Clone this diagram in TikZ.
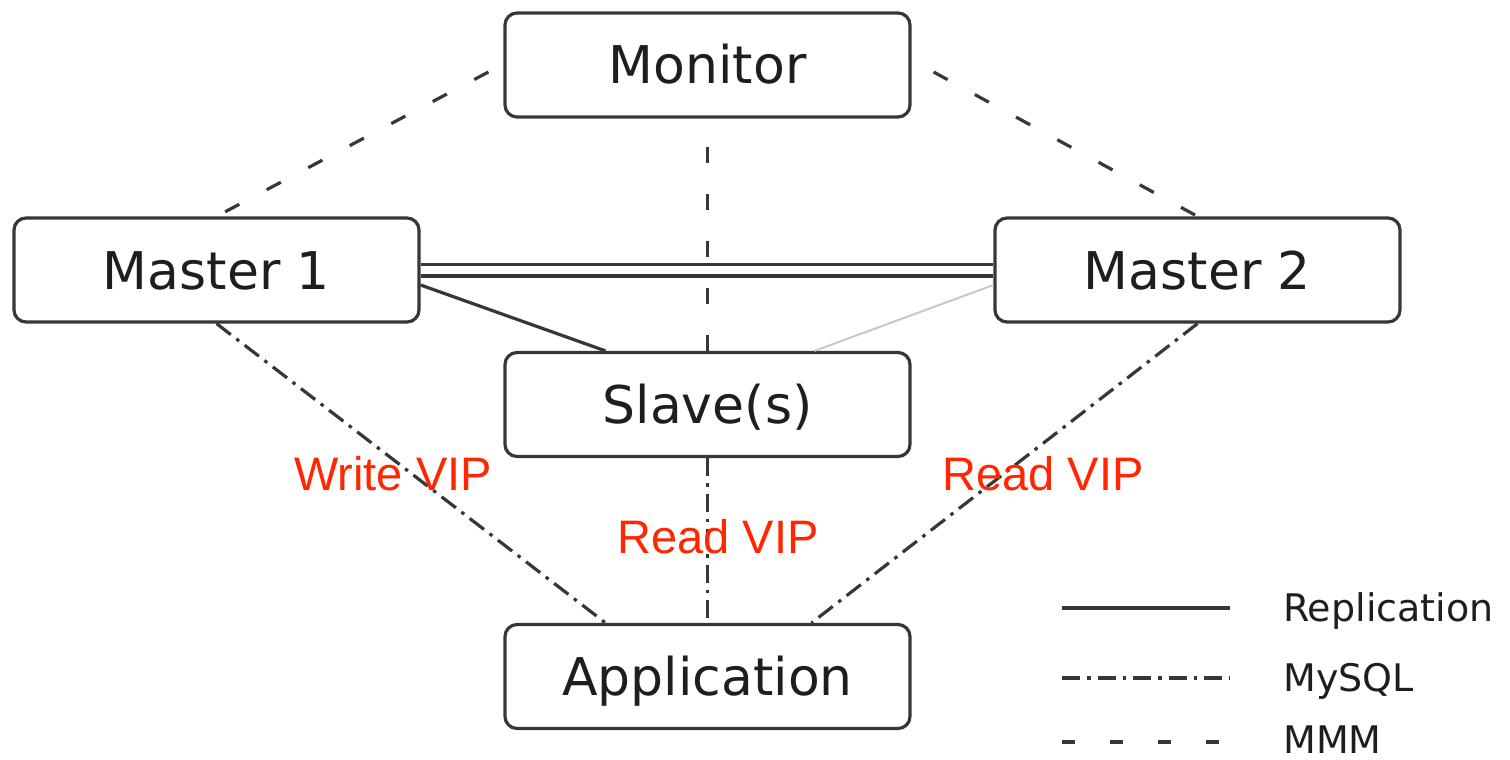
\documentclass[tikz,border=0pt]{standalone}
\usepackage{fontspec}
\setmainfont{DejaVu Sans}
\newfontfamily\redfont{Liberation Sans}
\definecolor{ink}{RGB}{30,30,30}
\definecolor{edge}{RGB}{55,55,55}
\definecolor{vipred}{RGB}{255,38,0}
\definecolor{lightline}{RGB}{200,200,200}
\tikzset{
  box/.style={draw=edge, line width=3.2pt, rounded corners=12pt, minimum width=405pt, minimum height=104pt,
    inner sep=0pt, text height=38pt, text depth=0pt, text=ink, font=\fontsize{52}{60}\selectfont},
  repl/.style={draw=edge, line width=3.2pt},
  repllight/.style={draw=lightline, line width=2pt},
  dbl/.style={draw=edge, line width=3.5pt, double=white, double distance=8pt},
  mysql/.style={draw=edge, line width=3.2pt, dash pattern=on 18pt off 7pt on 3.5pt off 7pt},
  mmm/.style={draw=edge, line width=3.2pt, dash pattern=on 16pt off 31pt},
  viplabel/.style={text=vipred, font=\redfont\fontsize{47}{56}\selectfont, anchor=base, inner sep=0pt},
  legtext/.style={text=ink, anchor=west, inner sep=0pt, text height=27pt, text depth=0pt, font=\fontsize{38}{46}\selectfont}
}
\begin{document}
\begin{tikzpicture}[x=1pt,y=-1pt]
\useasboundingbox (0,0) rectangle (1510,760);
\node[box] (mon) at (707.5,65) {Monitor};
\node[box] (m1) at (216.5,270) {Master 1};
\node[box] (m2) at (1197.5,270) {Master 2};
\node[box] (sl) at (707.5,404.5) {Slave(s)};
\node[box] (app) at (707.5,676.5) {Application};
% MMM
\draw[mmm] ([xshift=-15pt,yshift=-7pt]mon.west) -- (m1.north);
\draw[mmm] ([xshift=22pt,yshift=-7pt]mon.east) -- (m2.north);
\draw[mmm, shorten <=28pt] (mon.south) -- (sl.north);
% Replication
\draw[dbl] (m1.east) -- (m2.west);
\draw[repl] ([yshift=-15pt]m1.east) -- ([xshift=-102pt]sl.north);
\draw[repllight] ([yshift=-15pt]m2.west) -- ([xshift=107pt]sl.north);
% MySQL
\draw[mysql] (m1.south) -- ([xshift=-102pt]app.north);
\draw[mysql] (sl.south) -- (app.north);
\draw[mysql] (m2.south) -- ([xshift=104pt]app.north);
% VIP labels
\node[viplabel] (wvip) at (393,490) {Write VIP};
\node[viplabel] (rvip1) at (718,553) {Read VIP};
\node[viplabel] (rvip2) at (1043,490) {Read VIP};
% Legend
\coordinate (l1a) at (1062,608); \coordinate (l1b) at (1230,608);
\coordinate (l2a) at (1062,678); \coordinate (l2b) at (1230,678);
\coordinate (l3a) at (1062,742); \coordinate (l3b) at (1230,742);
\draw[repl] (l1a) -- (l1b);
\draw[mysql] (l2a) -- (l2b);
\draw[mmm, dash pattern=on 13pt off 35pt] (l3a) -- (l3b);
\node[legtext] (lt1) at (1283,608) {Replication};
\node[legtext] (lt2) at (1283,678) {MySQL};
\node[legtext] (lt3) at (1283,740) {MMM};
\end{tikzpicture}
\end{document}
